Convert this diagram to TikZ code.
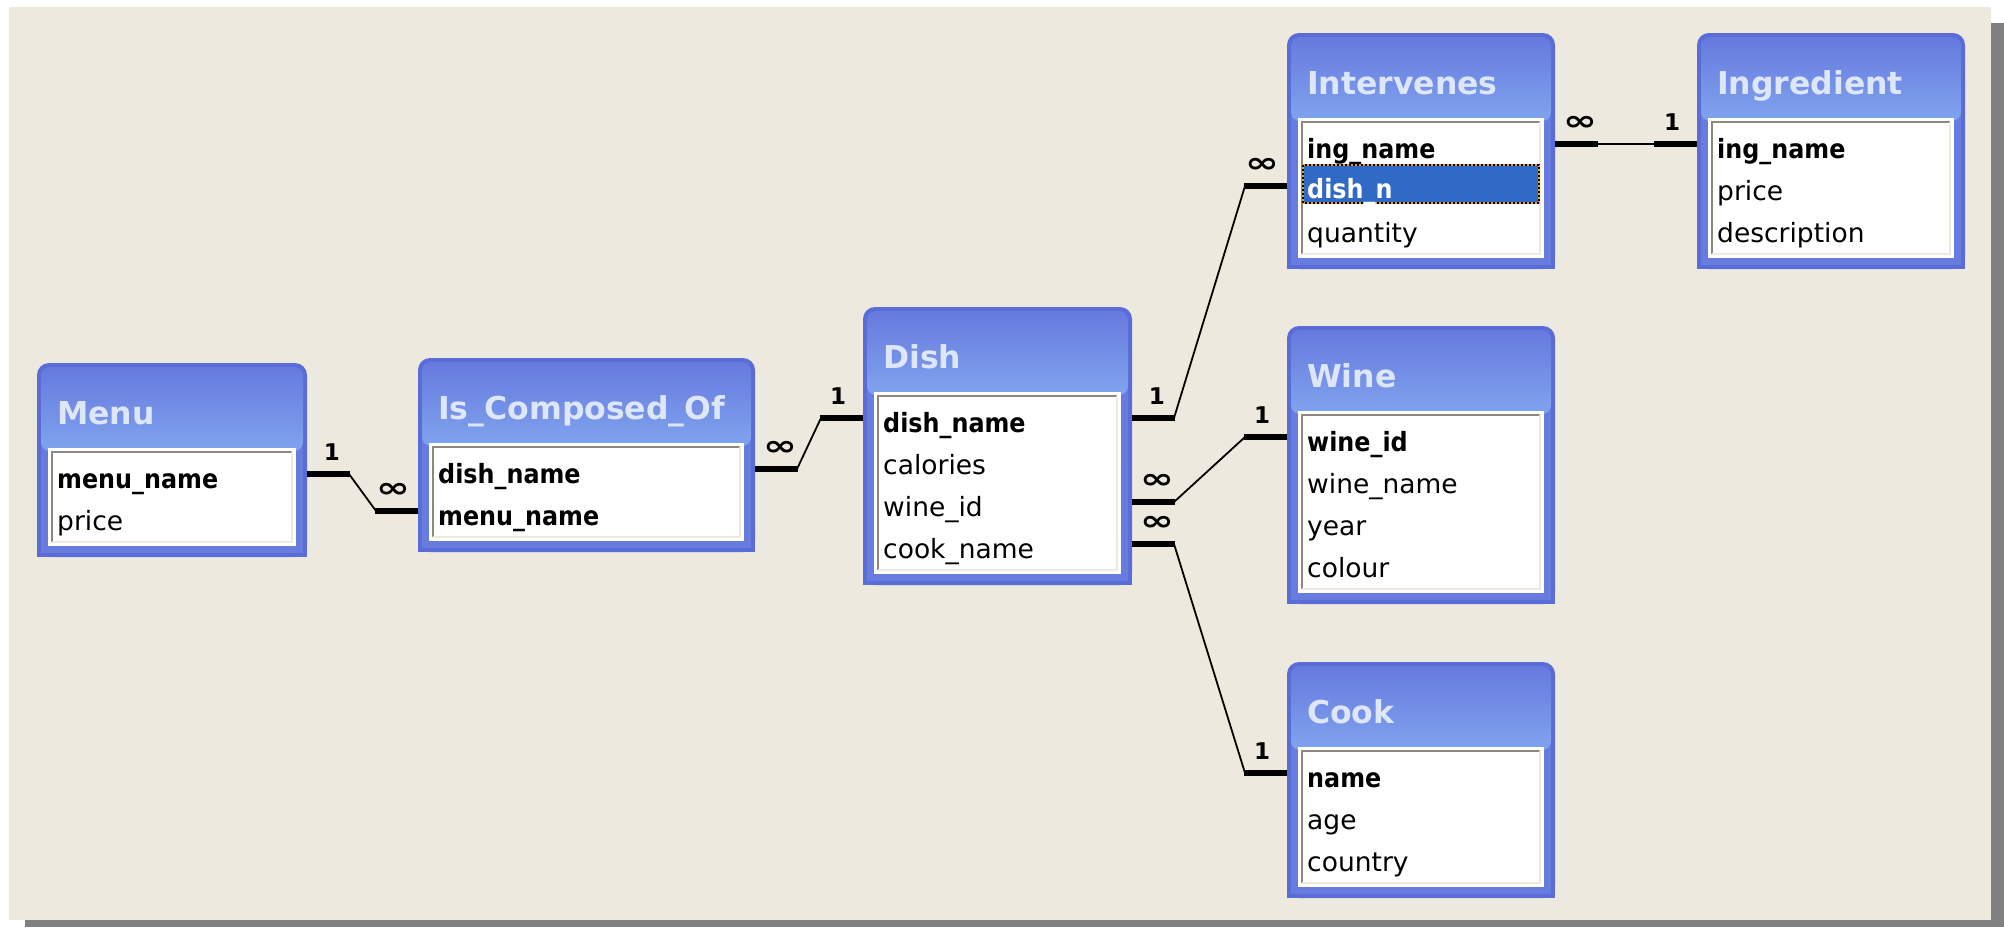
\documentclass[tikz,border=0pt]{standalone}
\usepackage{fontspec}
\usepackage{graphicx}
\setmainfont{DejaVu Sans}
\newfontfamily\titlefont{DejaVu Sans}
\newfontfamily\keyfont[FakeStretch=0.9]{DejaVu Sans}
\usetikzlibrary{calc}

\definecolor{panel}{RGB}{237,233,222}
\definecolor{shadowgrey}{RGB}{128,128,128}
\definecolor{boxedge}{RGB}{90,108,215}
\definecolor{boxbody}{RGB}{104,124,224}
\definecolor{titletop}{RGB}{102,122,222}
\definecolor{titlebot}{RGB}{128,164,238}
\definecolor{titleink}{RGB}{222,230,250}
\definecolor{sunken}{RGB}{140,136,124}
\definecolor{selblue}{RGB}{49,106,197}
\definecolor{focusorange}{RGB}{230,160,40}

\tikzset{
  tableframe/.style={draw=none, inner sep=0pt, outer sep=0pt, anchor=north west},
  titlelabel/.style={anchor=base west, inner sep=0pt, text=titleink,
    font=\titlefont\bfseries\fontsize{31.5}{38}\selectfont},
  fieldrow/.style={anchor=base west, inner sep=0pt, font=\fontsize{26.5}{30}\selectfont},
  stub/.style={line width=6.5pt},
  link/.style={line width=1.8pt},
  cardlabel/.style={inner sep=0pt, above=10pt, pos=0.58},
}

% key columns are printed bold
\newcommand\keycol[1]{{\keyfont\bfseries #1}}
% cardinality marks
\newcommand\relone{{\bfseries\fontsize{23}{25}\selectfont 1}}
\newcommand\relmany{{\bfseries\fontsize{28}{30}\selectfont\scalebox{1.45}[1]{∞}}}

% #1 name, #2 left, #3 top, #4 width, #5 number of rows, #6 title, #7 rows
\newcommand\dbtable[7]{%
  \pgfmathsetmacro\tabH{110+42*#5}
  \node[tableframe, minimum width=#4pt, minimum height=\tabH pt] (#1) at (#2,#3) {};
  \fill[boxedge, rounded corners=12pt] (#1.north west) rectangle (#1.south east);
  \fill[boxedge] ($(#1.south west)+(0,-40)$) rectangle (#1.south east);
  \fill[boxbody] ($(#1.north west)+(4,60)$) rectangle ($(#1.south east)+(-4,-4)$);
  \shade[top color=titletop, bottom color=titlebot, rounded corners=9pt]
    ($(#1.north west)+(4,4)$) rectangle ($(#1.north east)+(-4,88)$);
  % field list
  \fill[white] ($(#1.north west)+(11,85)$) rectangle ($(#1.south east)+(-11,-11)$);
  \draw[sunken, line width=2pt] ($(#1.south west)+(15,-15)$) -- ($(#1.north west)+(15,89)$)
    -- ($(#1.north east)+(-15,89)$);
  \draw[panel, line width=2pt] ($(#1.north east)+(-15,89)$) -- ($(#1.south east)+(-15,-15)$)
    -- ($(#1.south west)+(15,-15)$);
  \node[titlelabel] (#1-title) at ($(#1.north west)+(20,61)$) {#6};
  \foreach \txt [count=\i] in {#7} {
    \pgfmathsetmacro\rowy{111+42*(\i-1)}
    \coordinate (#1-r\i) at ($(#1.north west)+(0,\rowy)$);
    \node[fieldrow] (#1-\i) at ($(#1-r\i)+(20,14)$) {\txt};
  }
}

% #1 table, #2 row, #3 table, #4 row, #5 mark at #1, #6 mark at #3
\newcommand\relation[6]{%
  \coordinate (#1-#2-out) at (#1.east |- #1-r#2);
  \coordinate (#3-#4-in) at (#3.west |- #3-r#4);
  \draw[link] ([xshift=42pt]#1-#2-out) -- ([xshift=-42pt]#3-#4-in);
  \draw[stub] (#1-#2-out) -- node[cardlabel] {#5} ([xshift=43pt]#1-#2-out);
  \draw[stub] (#3-#4-in) -- node[cardlabel] {#6} ([xshift=-43pt]#3-#4-in);
}

\begin{document}
\begin{tikzpicture}[x=1pt, y=-1pt]
  % window background with drop shadow
  \fill[white] (0,0) rectangle (2004,927);
  \fill[shadowgrey] (25,23) rectangle (2004,927);
  \fill[panel] (9,7) rectangle (1991,920);
  \useasboundingbox (0,0) rectangle (2004,927);

  \dbtable{menu}{37}{363}{270}{2}{Menu}{\keycol{menu\_name}, price}
  \dbtable{ico}{418}{358}{337}{2}{Is\_Composed\_Of}{\keycol{dish\_name}, \keycol{menu\_name}}
  \dbtable{dish}{863}{307}{269}{4}{Dish}{\keycol{dish\_name}, calories, wine\_id, cook\_name}
  \dbtable{intervenes}{1287}{33}{268}{3}{Intervenes}{\keycol{ing\_name}, {}, quantity}
  \dbtable{ingredient}{1697}{33}{268}{3}{Ingredient}{\keycol{ing\_name}, price, description}
  \dbtable{wine}{1287}{326}{268}{4}{Wine}{\keycol{wine\_id}, wine\_name, year, colour}
  \dbtable{cook}{1287}{662}{268}{3}{Cook}{\keycol{name}, age, country}

  % selected field in Intervenes
  \fill[selblue] ($(intervenes.west |- intervenes-r2)+(16,-21)$) rectangle
    ($(intervenes.east |- intervenes-r2)+(-16,17)$);
  \draw[focusorange, line width=2pt] ($(intervenes.west |- intervenes-r2)+(16,-21)$) rectangle
    ($(intervenes.east |- intervenes-r2)+(-16,17)$);
  \draw[black, line width=2pt, dash pattern=on 2pt off 2pt] ($(intervenes.west |- intervenes-r2)+(16,-21)$) rectangle
    ($(intervenes.east |- intervenes-r2)+(-16,17)$);
  \node[fieldrow, text=white] (intervenes-sel) at ($(intervenes-r2)+(20,12)$) {\keycol{dish\_n}};

  % relationships
  \relation{menu}{1}{ico}{2}{\relone}{\relmany}
  \relation{ico}{1}{dish}{1}{\relmany}{\relone}
  \relation{dish}{1}{intervenes}{2}{\relone}{\relmany}
  \relation{intervenes}{1}{ingredient}{1}{\relmany}{\relone}
  \relation{dish}{3}{wine}{1}{\relmany}{\relone}
  \relation{dish}{4}{cook}{1}{\relmany}{\relone}
\end{tikzpicture}
\end{document}
